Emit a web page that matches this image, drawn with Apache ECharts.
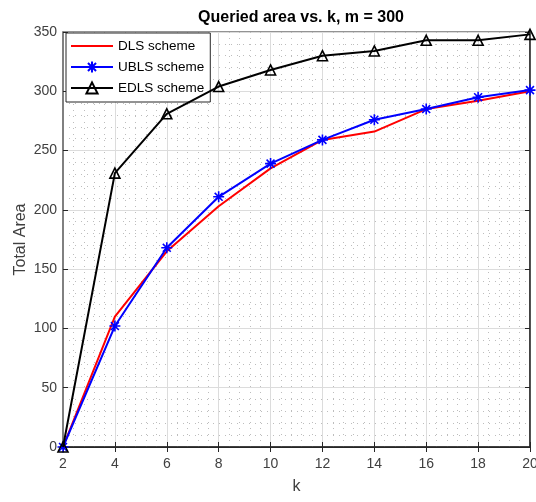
<!DOCTYPE html>
<html>
<head>
<meta charset="utf-8">
<script src="https://cdn.jsdelivr.net/npm/echarts@6/dist/echarts.min.js"></script>
<style>
  html, body { margin: 0; padding: 0; background: #ffffff; }
  #chart { width: 536px; height: 502px; }
</style>
</head>
<body>
<div id="chart"></div>
<script>
// Number of nearest neighbours k on the horizontal axis
const kValues = [2, 4, 6, 8, 10, 12, 14, 16, 18, 20];
// Total queried area for each scheme
const dlsArea  = [0, 110, 165, 203, 235, 259, 266, 285, 292, 300];
const ublsArea = [0, 102, 168, 211, 239, 259, 276, 285, 295, 301];
const edlsArea = [0, 231, 281, 304, 318, 330, 334, 343, 343, 348];

const seriesNames = ['DLS scheme', 'UBLS scheme', 'EDLS scheme'];
const titleText = 'Queried area vs. k, m = 300';
const xName = 'k';
const yName = 'Total Area';

const FONT = '"Liberation Sans", Arial, Helvetica, sans-serif';
const pairs = (ys) => kValues.map((k, i) => [k, ys[i]]);

// asterisk marker: plus sign overlaid with a cross
const asterisk = 'path://M0,-5L0,5M-5,0L5,0M-3.6,-3.6L3.6,3.6M-3.6,3.6L3.6,-3.6';

const chart = echarts.init(document.getElementById('chart'), null, { renderer: 'canvas' });

const tickLabel = { color: '#404040', fontSize: 14, fontFamily: FONT };
const minorGrid = { show: true, lineStyle: { color: '#bdbdbd', width: 1, type: [1, 5] } };

chart.setOption({
  backgroundColor: '#ffffff',
  animation: false,
  title: {
    text: titleText,
    left: 296, top: 5, textAlign: 'center',
    textStyle: { fontSize: 16, fontWeight: 'bold', color: '#000', fontFamily: FONT }
  },
  legend: {
    data: [
      { name: seriesNames[0], itemStyle: { opacity: 0 } },
      { name: seriesNames[1] },
      { name: seriesNames[2] }
    ],
    orient: 'vertical',
    left: 66, top: 33,
    padding: [6, 6, 7, 4],
    itemWidth: 42, itemHeight: 14, itemGap: 7,
    backgroundColor: '#ffffff',
    borderColor: '#262626', borderWidth: 1,
    textStyle: { fontSize: 13.5, color: '#000', fontFamily: FONT }
  },
  grid: {
    left: 63, right: 6, top: 32, bottom: 55,
    outerBoundsMode: 'none', containLabel: false,
    show: true, borderColor: '#262626', borderWidth: 1
  },
  xAxis: [{
    type: 'value', min: 2, max: 20, interval: 2,
    name: xName, nameLocation: 'middle', nameGap: 32, nameMoveOverlap: false,
    nameTextStyle: { fontSize: 16, color: '#404040', fontFamily: FONT },
    axisLine: { show: true, lineStyle: { color: '#262626', width: 1.5 } },
    axisTick: { inside: true, length: 5, lineStyle: { color: '#262626' } },
    axisLabel: Object.assign({ margin: 10, showMaxLabel: true }, tickLabel),
    minorTick: { show: true, splitNumber: 5, length: 0 },
    splitLine: { show: true, lineStyle: { color: '#dcdcdc', width: 1 } },
    minorSplitLine: minorGrid
  }, {
    type: 'value', min: 2, max: 20, interval: 2, position: 'top',
    axisLine: { show: true, lineStyle: { color: '#262626', width: 1 } },
    axisTick: { inside: true, length: 5, lineStyle: { color: '#262626' } },
    axisLabel: { show: false }, splitLine: { show: false }
  }],
  yAxis: [{
    type: 'value', min: 0, max: 350, interval: 50,
    name: yName, nameLocation: 'middle', nameGap: 34, nameMoveOverlap: false,
    nameTextStyle: { fontSize: 16, color: '#404040', fontFamily: FONT },
    axisLine: { show: true, lineStyle: { color: '#808080', width: 2 } },
    axisTick: { inside: true, length: 5, lineStyle: { color: '#262626' } },
    axisLabel: Object.assign({ margin: 6 }, tickLabel),
    minorTick: { show: true, splitNumber: 5, length: 0 },
    splitLine: { show: true, lineStyle: { color: '#dcdcdc', width: 1 } },
    minorSplitLine: minorGrid
  }, {
    type: 'value', min: 0, max: 350, interval: 50, position: 'right',
    axisLine: { show: true, lineStyle: { color: '#262626', width: 1.5 } },
    axisTick: { inside: true, length: 5, lineStyle: { color: '#262626' } },
    axisLabel: { show: false }, splitLine: { show: false }
  }],
  series: [{
    name: seriesNames[0], type: 'line', data: pairs(dlsArea),
    symbol: 'none', z: 3,
    lineStyle: { color: '#ff0000', width: 2 },
    itemStyle: { color: '#ff0000' }
  }, {
    name: seriesNames[1], type: 'line', data: pairs(ublsArea),
    symbol: asterisk, symbolSize: 11, showAllSymbol: true, z: 4,
    lineStyle: { color: '#0000ff', width: 2 },
    itemStyle: { color: '#0000ff', borderColor: '#0000ff', borderWidth: 1.6 }
  }, {
    name: seriesNames[2], type: 'line', data: pairs(edlsArea),
    symbol: 'triangle', symbolSize: 10, showAllSymbol: true, z: 5,
    lineStyle: { color: '#000000', width: 2 },
    itemStyle: { color: 'rgba(255,255,255,0)', borderColor: '#000000', borderWidth: 1.6 }
  }]
});
</script>
</body>
</html>
